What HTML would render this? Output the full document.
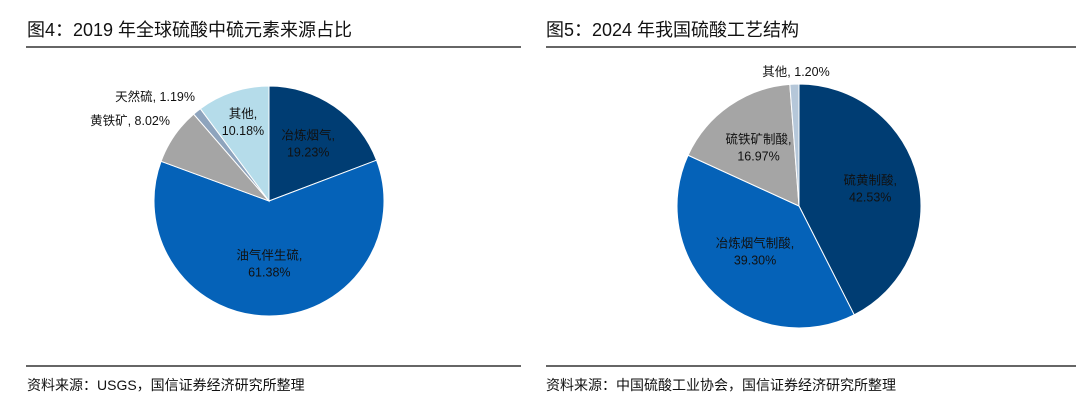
<!DOCTYPE html>
<html><head><meta charset="utf-8"><style>
body{margin:0;width:1080px;height:407px;background:#fff;font-family:"Liberation Sans","Noto Sans CJK SC",sans-serif;overflow:hidden}
svg{display:block}
</style></head><body>
<svg width="1080" height="407">
<g font-family="Liberation Sans, Noto Sans CJK SC, sans-serif">
<text x="27" y="36" font-size="18" fill="#111">图4：2019 年全球硫酸中硫元素来源占比</text>
<line x1="26" y1="47" x2="521" y2="47" stroke="#333" stroke-width="1.5"/>
<line x1="26" y1="366" x2="521" y2="366" stroke="#333" stroke-width="1.5"/>
<text x="27" y="390" font-size="14" fill="#111">资料来源：USGS，国信证券经济研究所整理</text>
<text x="546" y="36" font-size="18" fill="#111">图5：2024 年我国硫酸工艺结构</text>
<line x1="546" y1="47" x2="1076" y2="47" stroke="#333" stroke-width="1.5"/>
<line x1="546" y1="366" x2="1076" y2="366" stroke="#333" stroke-width="1.5"/>
<text x="546" y="390" font-size="14" fill="#111">资料来源：中国硫酸工业协会，国信证券经济研究所整理</text>
</g>
<g id="pie1"></g><g id="pie2"></g>
</svg>
<script>
const leftCats=["冶炼烟气","油气伴生硫","黄铁矿","天然硫","其他"];
const leftVals=[19.23,61.38,8.02,1.19,10.18];
const leftLabels=["冶炼烟气,\n19.23%","油气伴生硫,\n61.38%","黄铁矿, 8.02%","天然硫, 1.19%","其他,\n10.18%"];
const rightCats=["硫黄制酸","冶炼烟气制酸","硫铁矿制酸","其他"];
const rightVals=[42.53,39.30,16.97,1.20];
const rightLabels=["硫黄制酸,\n42.53%","冶炼烟气制酸,\n39.30%","硫铁矿制酸,\n16.97%","其他, 1.20%"];
const NS="http://www.w3.org/2000/svg";
function pie(gid,cx,cy,r,vals,cats,labels,colors,lpos){
  const g=document.getElementById(gid);
  const tot=vals.reduce((a,b)=>a+b,0);
  let a0=0;
  vals.forEach((v,i)=>{
    const a1=a0+v/tot*2*Math.PI;
    const p=(a)=>[cx+r*Math.sin(a),cy-r*Math.cos(a)];
    const [x0,y0]=p(a0),[x1,y1]=p(a1);
    const path=document.createElementNS(NS,"path");
    path.setAttribute("d",`M${cx},${cy}L${x0},${y0}A${r},${r} 0 ${a1-a0>Math.PI?1:0} 1 ${x1},${y1}Z`);
    path.setAttribute("fill",colors[i]);path.setAttribute("stroke","#fff");path.setAttribute("stroke-width","1");
    
    
    g.appendChild(path);
    const mid=(a0+a1)/2;
    const lp=lpos[i];
    let lx,ly;
    if(lp.out){lx=lp.x;ly=lp.y;}else{lx=cx+r*lp.f*Math.sin(mid);ly=cy-r*lp.f*Math.cos(mid);}
    const t=document.createElementNS(NS,"text");
    t.setAttribute("font-size","12.5");t.setAttribute("fill","#111");
    t.setAttribute("text-anchor",lp.anchor||"middle");
    t.setAttribute("font-family","Liberation Sans, Noto Sans CJK SC, sans-serif");
    
    
    const lines=labels[i].split("\n");
    lines.forEach((ln,k)=>{const ts=document.createElementNS(NS,"tspan");ts.setAttribute("x",lx);ts.setAttribute("y",ly+k*17-(lines.length-1)*8.5+4);ts.textContent=ln;t.appendChild(ts);});
    g.appendChild(t);
    a0=a1;
  });
}
pie("pie1",269,201,115,leftVals,leftCats,leftLabels,
 ["#003d73","#0562b8","#a5a5a5","#8ea4bd","#b5dcea"],
 [{f:0.6},{f:0.55},{out:1,x:170,y:121,anchor:"end"},{out:1,x:195,y:97,anchor:"end"},{f:0.72}]);
pie("pie2",799,206,122,rightVals,rightCats,rightLabels,
 ["#003d73","#0562b8","#a5a5a5","#b5c7d9"],
 [{f:0.6},{f:0.52},{f:0.58},{out:1,x:796,y:72,anchor:"middle"}]);
</script>
</body></html>
